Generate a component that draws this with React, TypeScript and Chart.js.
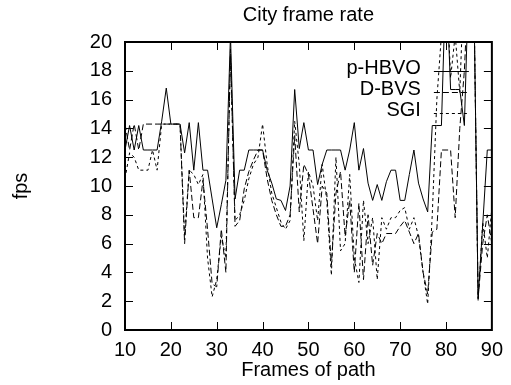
import React, { useEffect, useRef } from "react";
import { Chart, registerables } from "chart.js";
Chart.register(...registerables);

const frames = [
  10, 11, 12, 13, 14, 15, 16, 17, 18, 19,
  20, 21, 22, 23, 24, 25, 26, 27, 28, 29,
  30, 31, 32, 33, 34, 35, 36, 37, 38, 39,
  40, 41, 42, 43, 44, 45, 46, 47, 48, 49,
  50, 51, 52, 53, 54, 55, 56, 57, 58, 59,
  60, 61, 62, 63, 64, 65, 66, 67, 68, 69,
  70, 71, 72, 73, 74, 75, 76, 77, 78, 79,
  80, 81, 82, 83, 84, 85, 86, 87, 88, 89,
  90,
];

const pHBVO = [
  12.5, 14.2, 12.5, 14.2, 12.5, 12.5, 12.5, 12.5, 14.5, 16.8,
  14.3, 14.3, 14.3, 12.3, 14.4, 11.1, 14.4, 11.1, 11.1, 9.1,
  7.1, 8.7, 10.4, 20.5, 9.1, 11.1, 11.1, 12.5, 12.5, 12.5,
  12.5, 11.1, 10.2, 9.1, 9.0, 8.3, 10.0, 16.7, 12.6, 14.4,
  12.5, 12.5, 10.1, 11.5, 12.5, 12.5, 12.5, 12.5, 11.1, 12.5,
  14.4, 11.1, 12.6, 10.2, 9.0, 10.1, 9.0, 10.3, 11.1, 11.1,
  9.0, 9.0, 10.8, 12.5, 10.2, 9.1, 8.2, 14.2, 14.2, 14.2,
  25, 16.7, 16.7, 16.7, 14.2, 25, 25, 2.2, 7.3, 12.5,
  12.5,
];

const dBVS = [
  14.3, 12.5, 14.3, 12.5, 14.3, 14.3, 14.3, 14.3, 14.3, 14.3,
  14.3, 14.3, 14.3, 6.0, 11.1, 7.8, 7.8, 10.4, 7.0, 3.2,
  3.0, 7.0, 4.0, 19.5, 7.2, 7.6, 9.8, 11.0, 11.8, 12.5,
  12.5, 10.5, 9.0, 8.0, 7.2, 7.2, 8.0, 13.5, 8.2, 11.5,
  10.8, 8.4, 6.0, 10.0, 9.5, 4.5, 9.5, 11.0, 6.5, 9.0,
  4.0, 8.8, 3.5, 8.0, 4.5, 6.7, 6.0, 6.7, 6.7, 6.7,
  7.2, 7.6, 6.8, 6.0, 6.7, 4.0, 2.5, 6.8, 7.0, 12.5,
  12.5, 12.5, 7.8, 14.0, 18.0, 25, 25, 2.2, 6.0, 8.0,
  6.0,
];

const sgi = [
  10.5, 12.3, 12.0, 11.1, 11.1, 11.1, 12.5, 11.1, 14.3, 14.3,
  14.3, 14.3, 14.3, 6.5, 11.1, 10.8, 10.1, 10.8, 5.0, 2.3,
  3.5, 6.5, 5.0, 19.0, 7.6, 8.0, 9.0, 10.5, 11.5, 12.0,
  14.3, 11.5, 9.5, 8.5, 7.5, 7.0, 7.6, 14.5, 11.5, 6.2,
  11.0, 10.0, 7.6, 11.5, 9.0, 3.8, 12.0, 5.5, 6.0, 10.8,
  5.0, 3.3, 9.0, 6.0, 7.8, 3.5, 7.8, 7.0, 7.8, 7.8,
  8.3, 8.5, 7.0, 7.8, 6.5, 4.0, 1.8, 8.0, 16.0, 20.5,
  25, 17.5, 20.5, 16.5, 25, 25, 25, 2.0, 7.5, 5.0,
  8.5,
];

const xTicks = [10, 20, 30, 40, 50, 60, 70, 80, 90];
const yTicks = [0, 2, 4, 6, 8, 10, 12, 14, 16, 18, 20];
const seriesNames = ["p-HBVO", "D-BVS", "SGI"];
const seriesDashes = [[], [6, 3], [3, 3]];

const FONT = "'Liberation Sans', Arial, Helvetica, sans-serif";

const gnuFrame = {
  id: "gnuFrame",
  afterDatasetsDraw(chart: any) {
    const { ctx, chartArea, scales } = chart;
    const { left, right, top, bottom } = chartArea;
    const x = scales.x;
    const y = scales.y;
    ctx.save();
    ctx.strokeStyle = "#000";
    ctx.lineWidth = 1;
    ctx.setLineDash([]);
    const tl = 8;
    ctx.beginPath();
    for (const v of xTicks) {
      if (v === xTicks[0] || v === xTicks[xTicks.length - 1]) continue;
      const px = Math.round(x.getPixelForValue(v)) + 0.5;
      ctx.moveTo(px, bottom);
      ctx.lineTo(px, bottom - tl);
      ctx.moveTo(px, top);
      ctx.lineTo(px, top + tl);
    }
    for (const v of yTicks) {
      if (v === yTicks[0] || v === yTicks[yTicks.length - 1]) continue;
      const py = Math.round(y.getPixelForValue(v)) + 0.5;
      ctx.moveTo(left, py);
      ctx.lineTo(left + tl, py);
      ctx.moveTo(right, py);
      ctx.lineTo(right - tl, py);
    }
    ctx.stroke();
    ctx.lineWidth = 2;
    ctx.strokeRect(left, top, right - left, bottom - top);

    // gnuplot-style key
    ctx.font = `20px ${FONT}`;
    ctx.fillStyle = "#000";
    ctx.textAlign = "right";
    ctx.textBaseline = "alphabetic";
    const textX = right - 71;
    const lineX0 = right - 58;
    const lineX1 = right - 23;
    chart.data.datasets.forEach((ds: any, i: number) => {
      const base = top + 31.5 + i * 21;
      ctx.fillText(ds.label, textX, base);
      const ly = Math.round(base - 2.5) + 0.5;
      ctx.lineWidth = 1;
      ctx.setLineDash(ds.borderDash || []);
      ctx.beginPath();
      ctx.moveTo(lineX0, ly);
      ctx.lineTo(lineX1, ly);
      ctx.stroke();
    });
    ctx.restore();
  },
};

export default function App() {
  const ref = useRef<HTMLCanvasElement | null>(null);
  useEffect(() => {
    if (!ref.current) return;
    const font = { family: FONT, size: 20, weight: "normal" as const };
    const series = [pHBVO, dBVS, sgi];
    const chart = new Chart(ref.current, {
      type: "line",
      data: {
        datasets: series.map((vals, i) => ({
          label: seriesNames[i],
          data: frames.map((f, j) => ({ x: f, y: vals[j] })),
          borderColor: "#000",
          borderWidth: 1,
          borderDash: seriesDashes[i],
          pointRadius: 0,
          tension: 0,
          fill: false,
          clip: 0,
        })),
      },
      options: {
        animation: false,
        responsive: false,
        devicePixelRatio: 1,
        layout: { padding: { left: 0, right: 15, top: 0, bottom: 0 } },
        plugins: {
          legend: { display: false },
          tooltip: { enabled: false },
          title: {
            display: true,
            text: "City frame rate",
            color: "#000",
            font,
            fullSize: false,
            padding: { top: 3, bottom: 15 },
          },
        },
        scales: {
          x: {
            type: "linear",
            min: 10,
            max: 90,
            afterBuildTicks: (s: any) => {
              s.ticks = xTicks.map((v) => ({ value: v }));
            },
            afterFit: (s: any) => {
              s.height = 55;
            },
            ticks: { color: "#000", font, padding: 8, maxRotation: 0, autoSkip: false },
            grid: { display: false, drawTicks: false },
            border: { display: false },
            title: {
              display: true,
              text: "Frames of path",
              color: "#000",
              font,
              padding: { top: 0, bottom: 3 },
            },
          },
          y: {
            type: "linear",
            min: 0,
            max: 20,
            afterBuildTicks: (s: any) => {
              s.ticks = yTicks.map((v) => ({ value: v }));
            },
            afterFit: (s: any) => {
              s.width = 125;
            },
            ticks: { color: "#000", font, padding: 13, autoSkip: false },
            grid: { display: false, drawTicks: false },
            border: { display: false },
            title: {
              display: true,
              text: "fps",
              color: "#000",
              font,
              padding: { top: 9, bottom: 0 },
            },
          },
        },
      },
      plugins: [gnuFrame],
    } as any);
    return () => chart.destroy();
  }, []);
  return (
    <div style={{ position: "absolute", left: 0, top: 0, width: 511, height: 385, background: "#fff" }}>
      <canvas ref={ref} width={511} height={385} style={{ width: 511, height: 385, display: "block" }} />
    </div>
  );
}
